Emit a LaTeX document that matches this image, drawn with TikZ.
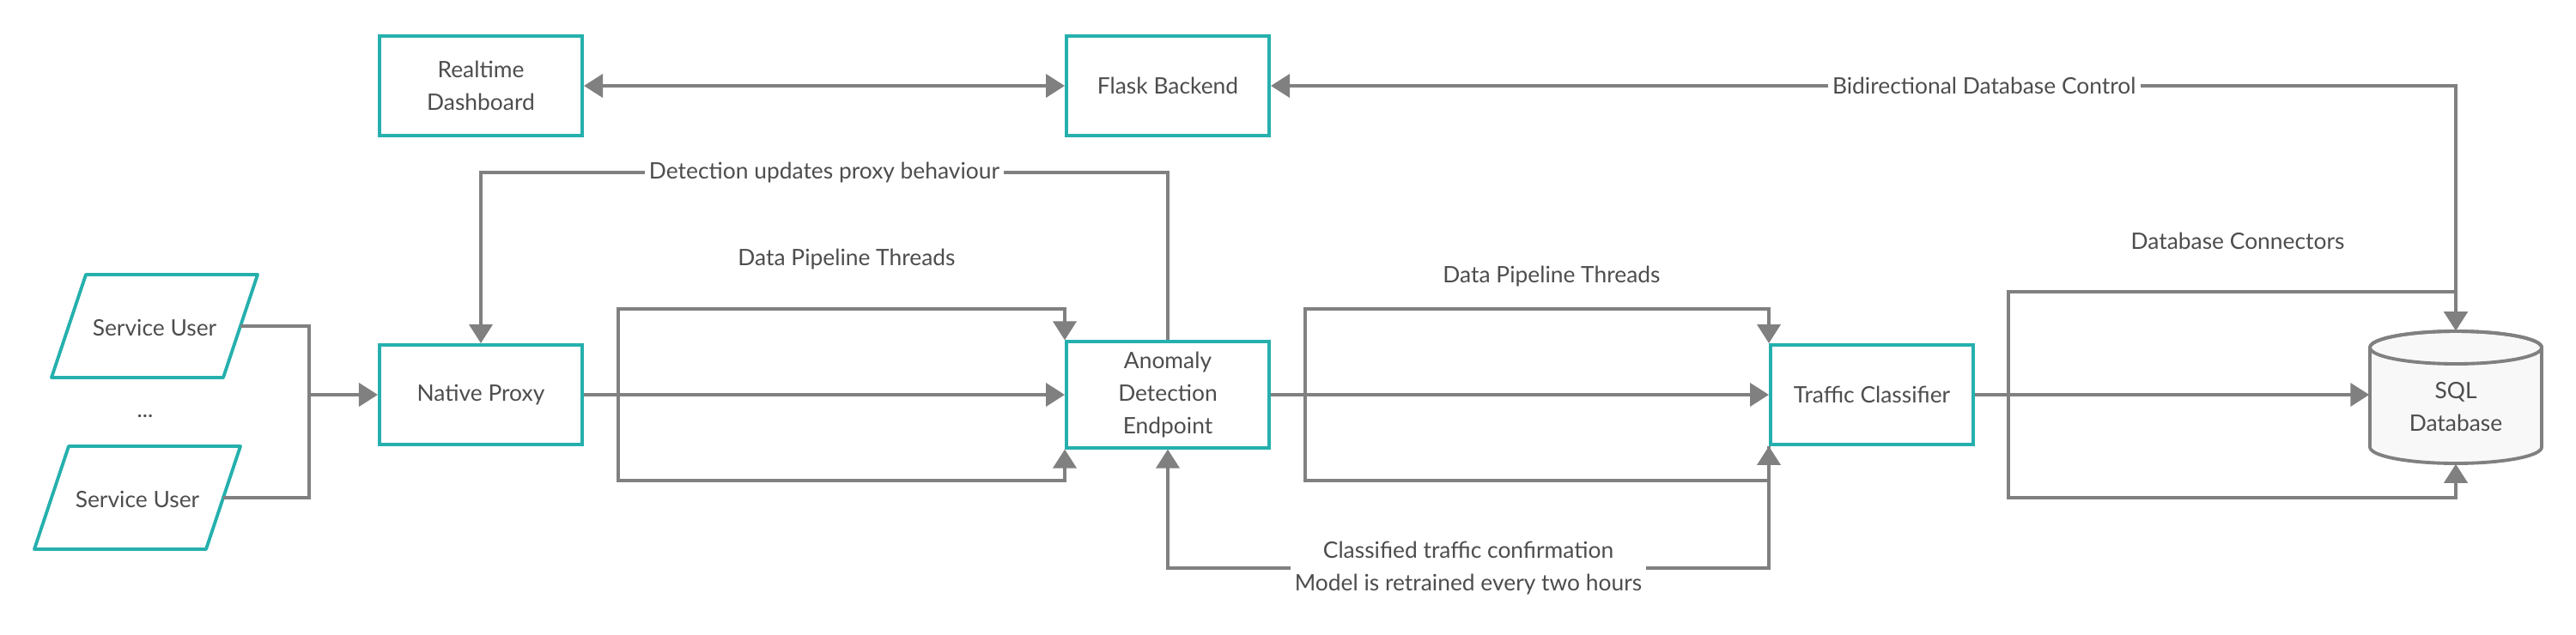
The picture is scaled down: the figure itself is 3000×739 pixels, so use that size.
\documentclass[tikz,border=0pt]{standalone}
\usepackage{fontspec}
\setmainfont{Lato}
\usetikzlibrary{arrows.meta}
\definecolor{boxteal}{HTML}{26B0AD}
\definecolor{linegray}{HTML}{808080}
\definecolor{textgray}{HTML}{4D4D4D}
\definecolor{dbfill}{HTML}{F8F8F8}
\begin{document}
\begin{tikzpicture}[x=0.01cm,y=-0.01cm,
    font=\fontsize{7.5}{10.8}\selectfont, text=textgray,
    box/.style={draw=boxteal, line width=1.1pt, fill=white, minimum width=2.36cm, minimum height=1.16cm, align=center},
    userline/.style={draw=boxteal, line width=1.1pt, line join=round},
    conn/.style={draw=linegray, line width=1.1pt},
    arrow/.style={conn, -{Triangle[length=0.22cm,width=0.27cm]}},
    twoway/.style={conn, {Triangle[length=0.22cm,width=0.27cm]}-{Triangle[length=0.22cm,width=0.27cm]}},
    lbl/.style={fill=white, inner sep=1.5pt, align=center}]
    \useasboundingbox (0,0) rectangle (3000,739);
    % boxes
    \node[box] (dash) at (560,100) {Realtime\\Dashboard};
    \node[box] (flask) at (1360,100) {Flask Backend};
    \node[box] (proxy) at (560,460) {Native Proxy};
    \node[box] (anomaly) at (1360,460) {Anomaly\\Detection\\Endpoint};
    \node[box] (classifier) at (2180,460) {Traffic Classifier};
    % database cylinder
    \node[minimum width=2cm, minimum height=1.54cm, inner sep=0pt] (db) at (2860,463) {};
    \path[conn, fill=dbfill] (2760,405) -- (2760,521) arc[start angle=180, end angle=0, x radius=100, y radius=19]
        -- (2960,405) arc[start angle=0, end angle=-180, x radius=100, y radius=19] -- cycle;
    \draw[conn] (2860,405) ellipse[x radius=100, y radius=19];
    \node[align=center] (dbtext) at (2860,474) {SQL\\Database};
    % service users
    \foreach \n/\x/\y in {user1/180/380,user2/160/580}
    {
      \draw[userline] (\x-80,\y-60) -- (\x+120,\y-60) -- (\x+80,\y+60) -- (\x-120,\y+60) -- cycle;
      \node (\n) at (\x,\y+2) {Service User};
      \coordinate (\n-out) at (\x+100,\y);
    }
    \node (dots) at (169,485) {...};
    \coordinate (merge) at (360,460);
    \coordinate (split1) at (720,460);
    \coordinate (split2) at (1520,460);
    \coordinate (split3) at (2339,460);
    % users into proxy
    \draw[conn] (user1-out) -| (merge);
    \draw[conn] (user2-out) -| (merge);
    \draw[arrow] (merge) -- (proxy.west);
    % main pipeline
    \draw[arrow] (proxy) -- (anomaly);
    \draw[arrow] (anomaly) -- (classifier);
    \draw[arrow] (classifier.east) -- (classifier.east -| db.west);
    \foreach \s/\t in {split1/anomaly,split2/classifier}
    {
      \draw[arrow] (\s) -- ++(0,-100) -| (\t.north west);
      \draw[arrow] (\s) -- ++(0,100) -| (\t.south west);
    }
    \draw[arrow] (split3) -- ++(0,-120) -| (db.north);
    \draw[arrow] (split3) -- ++(0,120) -| (db.south);
    \node at (986,302) {Data Pipeline Threads};
    \node at (1807,322) {Data Pipeline Threads};
    \node at (2606,281) {Database Connectors};
    % feedback loops
    \draw[arrow] (anomaly.north) -- ++(0,-195) -| node[lbl,pos=0.25] {Detection updates proxy behaviour} (proxy.north);
    \draw[arrow] (classifier.south west) -- ++(0,142) -| node[lbl,pos=0.25] {Classified traffic confirmation\\Model is retrained every two hours} (anomaly.south);
    \draw[twoway] (dash) -- (flask);
    \draw[twoway] (flask.east) -| node[lbl,pos=0.301] {Bidirectional Database Control} (db.north);
\end{tikzpicture}
\end{document}
